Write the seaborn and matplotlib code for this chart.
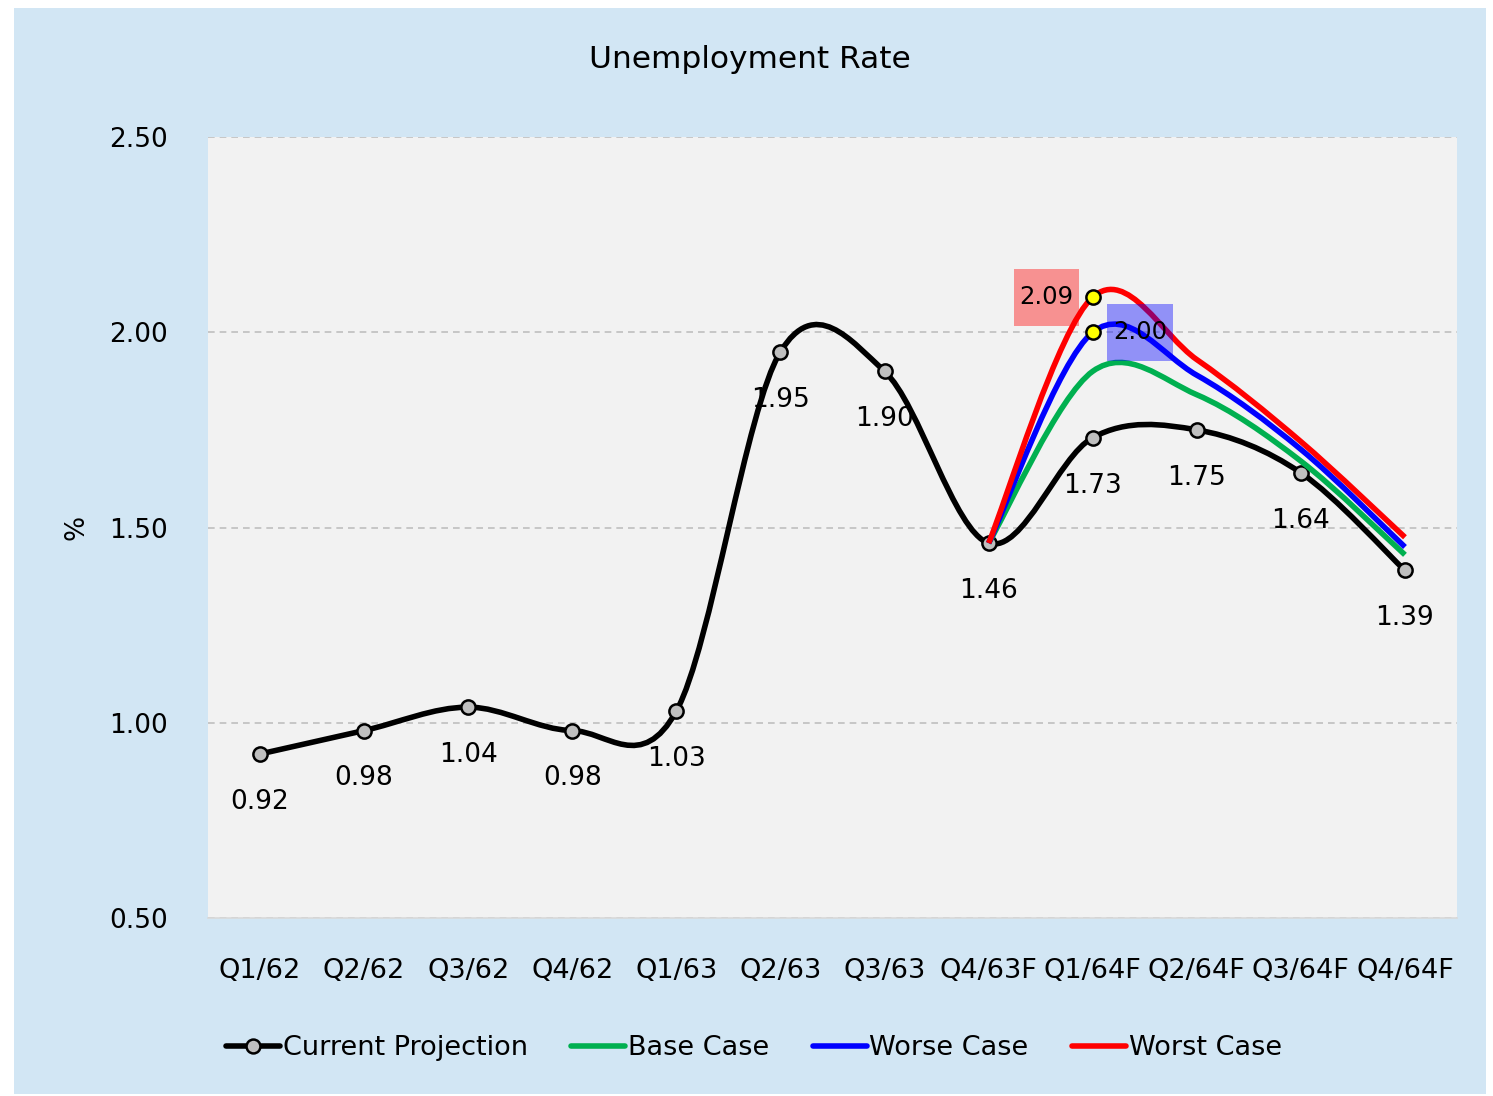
import numpy as np
import seaborn as sns
import matplotlib.pyplot as plt
from matplotlib.path import Path
from matplotlib.patches import PathPatch, Rectangle
from matplotlib.lines import Line2D
from matplotlib.offsetbox import DrawingArea, AnnotationBbox

quarters = ['Q1/62', 'Q2/62', 'Q3/62', 'Q4/62', 'Q1/63', 'Q2/63', 'Q3/63',
            'Q4/63F', 'Q1/64F', 'Q2/64F', 'Q3/64F', 'Q4/64F']
current = [0.92, 0.98, 1.04, 0.98, 1.03, 1.95, 1.90, 1.46, 1.73, 1.75, 1.64, 1.39]
# scenarios start at Q4/63F
scen_start = 7
base_case = [1.46, 1.90, 1.84, 1.67, 1.43]
worse_case = [1.46, 2.00, 1.89, 1.70, 1.45]
worst_case = [1.46, 2.09, 1.93, 1.72, 1.475]

BLUE_BG = '#D2E6F4'
PLOT_BG = '#F2F2F2'


def smooth_path(xs, ys):
    # excel style smoothed line: cubic bezier through every point
    p = np.column_stack([xs, ys]).astype(float)
    n = len(p)
    verts = [p[0]]
    codes = [Path.MOVETO]
    for i in range(n - 1):
        prev = p[i - 1] if i > 0 else p[i]
        nxt = p[i + 2] if i + 2 < n else p[i + 1]
        c1 = p[i] + (p[i + 1] - prev) / 6
        c2 = p[i + 1] - (nxt - p[i]) / 6
        verts += [c1, c2, p[i + 1]]
        codes += [Path.CURVE4] * 3
    return Path(verts, codes)


def boxed_label(ax, x, y, text, dx, color):
    # coloured box (65x57 px) beside the point, text on top
    da = DrawingArea(47, 41, 0, 0)
    da.add_artist(Rectangle((0, 0), 47, 41, facecolor=color, alpha=0.4,
                            edgecolor='none'))
    ab = AnnotationBbox(da, (x, y), xybox=(dx, 0), boxcoords='offset points',
                        frameon=False, pad=0, zorder=8)
    ax.add_artist(ab)
    ax.annotate(text, (x, y), xytext=(dx, 0), textcoords='offset points',
                ha='center', va='center', fontsize=17.5, color='black', zorder=9)


sns.set_theme(style='white')
plt.rcParams['font.family'] = ['DejaVu Sans']
plt.rcParams['text.color'] = 'black'
plt.rcParams['xtick.color'] = 'black'
plt.rcParams['ytick.color'] = 'black'
plt.rcParams['axes.labelcolor'] = 'black'

fig = plt.figure(figsize=(14.93, 10.96), dpi=100, facecolor='white')
fig.patches.append(Rectangle((14 / 1493, 2 / 1096), 1472 / 1493, 1086 / 1096,
                             transform=fig.transFigure, facecolor=BLUE_BG,
                             edgecolor='none', zorder=-5))
ax = fig.add_axes([208 / 1493, 178 / 1096, 1249 / 1493, 781 / 1096])
ax.set_facecolor(PLOT_BG)

x_all = np.arange(len(quarters))
x_sc = x_all[scen_start:]

ax.add_patch(PathPatch(smooth_path(x_all, current), facecolor='none',
                       edgecolor='black', lw=4, zorder=3, capstyle='round'))
for vals, col in [(base_case, '#00B050'), (worse_case, '#0000FF'), (worst_case, '#FF0000')]:
    ax.add_patch(PathPatch(smooth_path(x_sc, vals), facecolor='none',
                           edgecolor=col, lw=4, zorder=5, capstyle='butt'))

sns.scatterplot(x=x_all, y=current, ax=ax, s=105, color='#BFBFBF',
                edgecolor='black', linewidth=1.8, zorder=4, legend=False)
sns.scatterplot(x=[x_sc[1], x_sc[1]], y=[worst_case[1], worse_case[1]], ax=ax,
                s=105, color='#FFFF00', edgecolor='black', linewidth=1.8,
                zorder=7, legend=False)

for xi, v in zip(x_all, current):
    ax.annotate(f'{v:.2f}', (xi, v), xytext=(0, -34.5), textcoords='offset points',
                ha='center', va='center', fontsize=19, color='black', zorder=8)

boxed_label(ax, x_sc[1], worst_case[1], f'{worst_case[1]:.2f}', -33.5, '#FF0000')
boxed_label(ax, x_sc[1], worse_case[1], f'{worse_case[1]:.2f}', 34, '#0000FF')

ax.set_xlim(-0.5, len(quarters) - 0.5)
ax.set_ylim(0.5, 2.5)
ax.set_yticks([0.5, 1.0, 1.5, 2.0, 2.5])
ax.set_yticklabels([f'{t:.2f}' for t in [0.5, 1.0, 1.5, 2.0, 2.5]], fontsize=19)
ax.set_xticks(x_all)
ax.set_xticklabels(quarters, fontsize=19.5)
ax.tick_params(axis='x', pad=29, length=0)
ax.tick_params(axis='y', pad=29, length=0)
ax.set_ylabel('%', fontsize=19, labelpad=14)
ax.yaxis.grid(True, color='#BFBFBF', linestyle=(0, (4, 3)), lw=1.2)
ax.xaxis.grid(False)
for side in ['top', 'right', 'left']:
    ax.spines[side].set_visible(False)
ax.spines['bottom'].set_color('#D9D9D9')
ax.spines['bottom'].set_linewidth(1.2)

fig.text(0.502, 1 - 60 / 1096, 'Unemployment Rate', ha='center', va='center',
         fontsize=22.5, color='black')

handles = [
    Line2D([], [], color='black', lw=4, marker='o', markersize=10,
           markerfacecolor='#BFBFBF', markeredgecolor='black', markeredgewidth=1.8),
    Line2D([], [], color='#00B050', lw=4),
    Line2D([], [], color='#0000FF', lw=4),
    Line2D([], [], color='#FF0000', lw=4),
]
fig.legend(handles, ['Current Projection', 'Base Case', 'Worse Case', 'Worst Case'],
           loc='center', bbox_to_anchor=(0.505, 1 - 1048 / 1096), ncol=4,
           frameon=False, fontsize=19.5, handlelength=2.0, handletextpad=0.1,
           columnspacing=1.6)

fig.savefig('out.png', dpi=100, facecolor='white')
